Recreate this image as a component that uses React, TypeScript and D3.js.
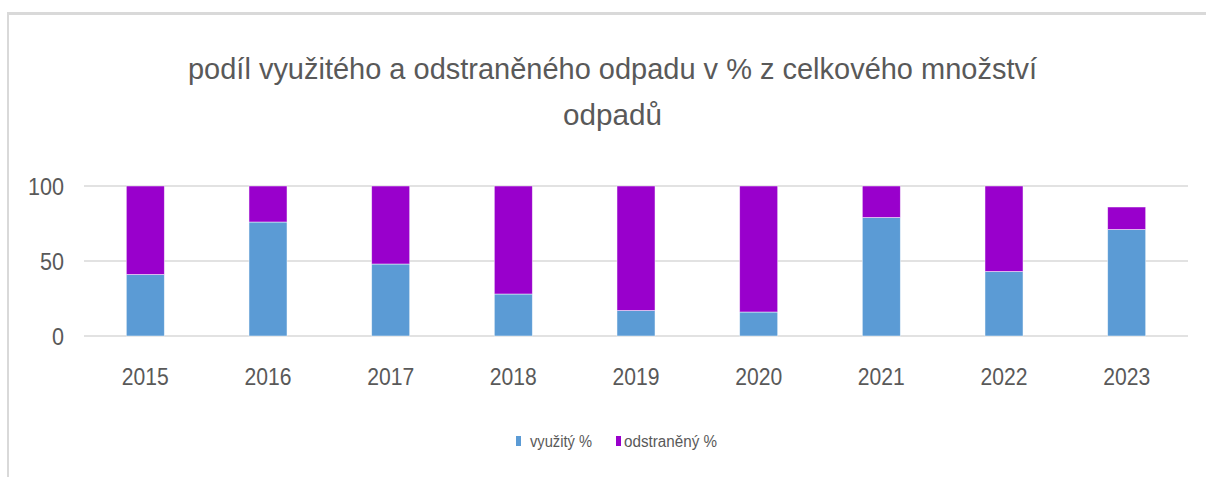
import React from "react";
import * as d3 from "d3";

const years = ["2015", "2016", "2017", "2018", "2019", "2020", "2021", "2022", "2023"];
const vyuzity = [41, 76, 48, 28, 17, 16, 79, 43, 71];
const odstraneny = [59, 24, 52, 72, 83, 84, 21, 57, 15];
const yTicks = [0, 50, 100];
const seriesNames = ["využitý %", "odstraněný %"];
const colors = ["#5b9bd5", "#9900cc"];
const titleLines = ["podíl využitého a odstraněného odpadu v % z celkového množství", "odpadů"];

const W = 1206;
const H = 477;
const FONT = "'Liberation Sans Narrow', 'Liberation Sans', 'Noto Sans', sans-serif";
const TXT = "#595959";

export default function App() {
  const x = d3.scaleBand<string>().domain(years).range([84, 1188]).paddingInner(0.69).paddingOuter(0.345);
  const y = d3.scaleLinear().domain([0, 100]).range([336, 186]);

  const rows = years.map((yr, i) => ({ year: yr, v: vyuzity[i], o: odstraneny[i] }));
  const stack = d3.stack<any>().keys(["v", "o"])(rows);

  return (
    <svg
      width={W}
      height={H}
      style={{ position: "absolute", left: 0, top: 0, background: "#fff" }}
    >
      <rect x={0} y={0} width={W} height={H} fill="#fff" />
      {/* chart border (top & left visible) */}
      <line x1={7} x2={W} y1={13.5} y2={13.5} stroke="#d9d9d9" strokeWidth={3} />
      <line x1={8} x2={8} y1={12} y2={H} stroke="#d9d9d9" strokeWidth={2} />

      {/* title */}
      <text x={612.5} y={79} textAnchor="middle" fontFamily={FONT} fontSize={29} fill={TXT}
        textLength={849} lengthAdjust="spacingAndGlyphs">{titleLines[0]}</text>
      <text x={612.5} y={125} textAnchor="middle" fontFamily={FONT} fontSize={29} fill={TXT}
        textLength={99} lengthAdjust="spacingAndGlyphs">{titleLines[1]}</text>

      {/* grid + y ticks */}
      {yTicks.map((t) => (
        <g key={t}>
          <line x1={84} x2={1188} y1={y(t)} y2={y(t)} stroke="#d9d9d9" strokeWidth={1.5} />
          <text x={64} y={y(t) + 8.5} textAnchor="end" fontFamily={FONT} fontSize={24} fill={TXT}
            textLength={String(t).length * 12} lengthAdjust="spacingAndGlyphs">{t}</text>
        </g>
      ))}

      {/* bars */}
      {stack.map((layer, si) => (
        <g key={si}>
          {layer.map((d: any, i: number) => (
            <rect
              key={i}
              x={x(years[i])}
              width={x.bandwidth()}
              y={y(d[1])}
              height={y(d[0]) - y(d[1])}
              fill={colors[si]}
              stroke="#ffffff"
              strokeOpacity={0.6}
              strokeWidth={0.8}
            />
          ))}
        </g>
      ))}

      {/* x labels */}
      {years.map((yr) => (
        <text key={yr} x={(x(yr) as number) + x.bandwidth() / 2} y={385} textAnchor="middle"
          fontFamily={FONT} fontSize={24} fill={TXT} textLength={47} lengthAdjust="spacingAndGlyphs">{yr}</text>
      ))}

      {/* legend */}
      <rect x={516} y={436} width={5} height={10} fill={colors[0]} />
      <text x={530} y={447} fontFamily={FONT} fontSize={16} fill={TXT} textLength={62} lengthAdjust="spacingAndGlyphs">{seriesNames[0]}</text>
      <rect x={616} y={436} width={5} height={10} fill={colors[1]} />
      <text x={624} y={447} fontFamily={FONT} fontSize={16} fill={TXT} textLength={93} lengthAdjust="spacingAndGlyphs">{seriesNames[1]}</text>
    </svg>
  );
}
